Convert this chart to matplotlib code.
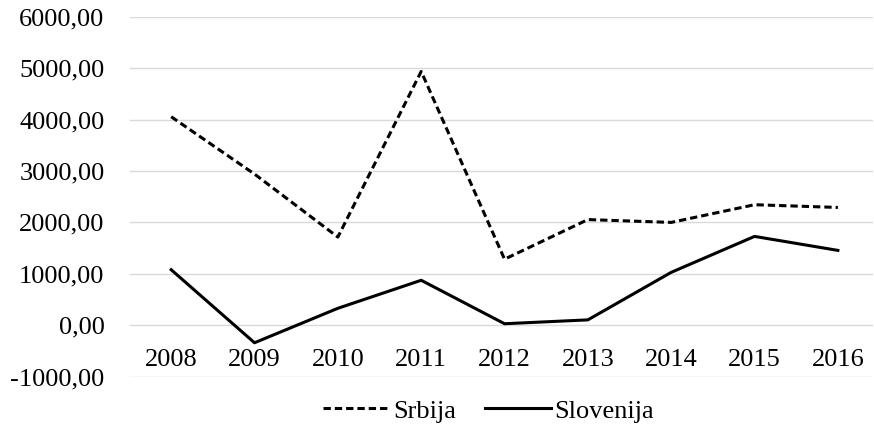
import matplotlib.pyplot as plt
import numpy as np

years = ['2008', '2009', '2010', '2011', '2012', '2013', '2014', '2015', '2016']
srbija = [4055, 2940, 1715, 4935, 1285, 2055, 2000, 2344, 2291]
slovenija = [1080, -340, 330, 875, 30, 105, 1029, 1728, 1456]
yticks = [-1000, 0, 1000, 2000, 3000, 4000, 5000, 6000]

plt.rcParams['font.family'] = ['Liberation Serif', 'DejaVu Serif']

fig = plt.figure(figsize=(8.74, 4.29), dpi=100)
W, H = 874, 429
left, right = 129.5, 873
top, bottom = 16.7, 376.7
ax = fig.add_axes([left / W, 1 - bottom / H, (right - left) / W, (bottom - top) / H])

x = np.arange(len(years))
ax.plot(x, srbija, color='black', lw=2.2, dashes=(2.4, 1.3), label='Srbija')
ax.plot(x, slovenija, color='black', lw=2.2, label='Slovenija')

ax.set_ylim(-1000, 6000)
ax.set_xlim(-0.5, (right - 171.5) / 83.3)
ax.set_yticks(yticks)
ax.set_yticklabels([f'{v:.2f}'.replace('.', ',') for v in yticks])
ax.set_xticks(x)
ax.set_xticklabels(years)

ax.grid(axis='y', color='#d9d9d9', lw=1.0)
ax.set_axisbelow(True)
for s in ['top', 'right', 'left']:
    ax.spines[s].set_visible(False)
ax.spines['bottom'].set_position(('data', 0))
ax.spines['bottom'].set_visible(False)
ax.tick_params(axis='y', length=0, pad=18, labelsize=19)
ax.tick_params(axis='x', length=0, pad=17, labelsize=19)

fig.legend(loc='center', bbox_to_anchor=(0.559, 0.042), ncol=2, frameon=False,
           fontsize=19, handlelength=2.5, handletextpad=0.15, columnspacing=1.1)

fig.savefig('out.png', dpi=100)
